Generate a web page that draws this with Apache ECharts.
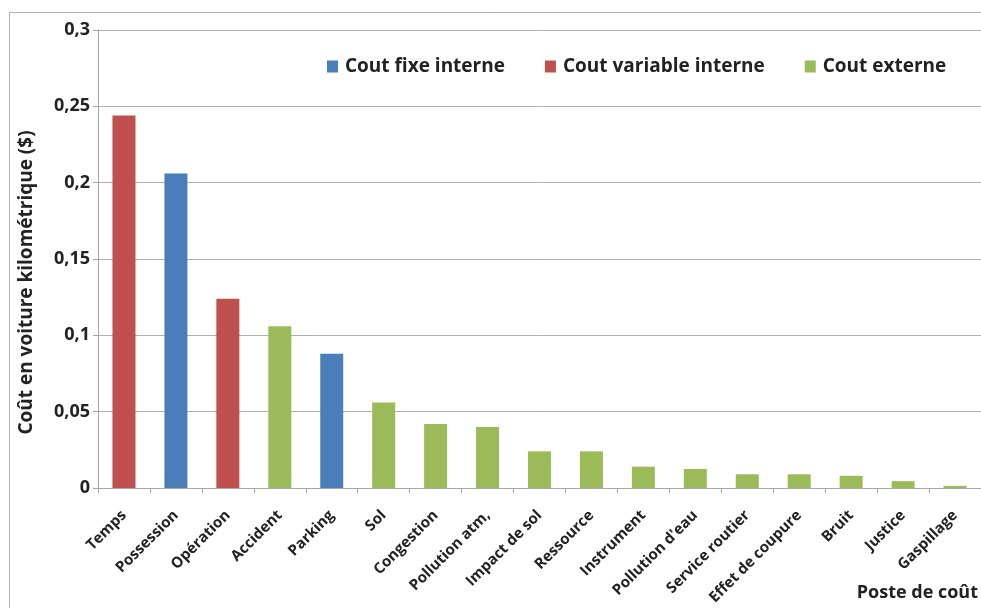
<!DOCTYPE html>
<html><head><meta charset="utf-8">
<script src="https://cdn.jsdelivr.net/npm/echarts@6/dist/echarts.min.js"></script>
<style>html,body{margin:0;padding:0;background:#fff}#c{width:981px;height:608px}</style>
</head><body><div id="c"></div>
<script>
var categories = ['Temps','Possession','Opération','Accident','Parking','Sol','Congestion','Pollution atm,','Impact de sol','Ressource','Instrument',"Pollution d'eau",'Service routier','Effet de coupure','Bruit','Justice','Gaspillage'];
var coutFixeInterne =     [null, 0.206, null, null, 0.088, null, null, null, null, null, null, null, null, null, null, null, null];
var coutVariableInterne = [0.244, null, 0.124, null, null, null, null, null, null, null, null, null, null, null, null, null, null];
var coutExterne =         [null, null, null, 0.106, null, 0.056, 0.042, 0.040, 0.024, 0.024, 0.014, 0.0125, 0.009, 0.009, 0.008, 0.0045, 0.0014];
var yTicks = {min: 0, max: 0.3, interval: 0.05};
var seriesNames = ['Cout fixe interne','Cout variable interne','Cout externe'];
var colors = ['#4a7ebb','#c0504d','#9bbb59'];

var FONT = '"Open Sans"';
var TXT = '#222222';
var chart = echarts.init(document.getElementById('c'));
function mk(name, data, color){
  return {name: name, type: 'bar', stack: 's', data: data, barWidth: 23,
    itemStyle: {color: color}, emphasis: {disabled: true}};
}
chart.setOption({
  animation: false,
  textStyle: {fontFamily: FONT},
  grid: {left: 98, top: 30, bottom: 120, right: -12, containLabel: false},
  legend: {
    data: seriesNames, top: 52, left: 322, itemWidth: 11, itemHeight: 12, itemGap: 40,
    icon: 'rect',
    textStyle: {fontFamily: FONT, fontWeight: 'bold', fontSize: 19, color: TXT, padding: [0,0,0,2]}
  },
  xAxis: {
    type: 'category', data: categories,
    axisLine: {lineStyle: {color: '#a6a6a6', width: 1}},
    axisTick: {show: true, length: 5, lineStyle: {color: '#a6a6a6'}},
    axisLabel: {rotate: 45, interval: 0, fontFamily: FONT, fontWeight: 'bold', fontSize: 15, color: TXT, margin: 25}
  },
  yAxis: {
    type: 'value', min: yTicks.min, max: yTicks.max, interval: yTicks.interval,
    name: 'Coût en voiture kilométrique ($)', nameLocation: 'middle', nameGap: 62,
    nameTextStyle: {fontFamily: FONT, fontWeight: 'bold', fontSize: 19, color: TXT, padding: [0, 47, 0, 0]},
    axisLine: {show: true, lineStyle: {color: '#a6a6a6'}},
    axisTick: {show: true, length: 5, lineStyle: {color: '#a6a6a6'}},
    splitLine: {lineStyle: {color: '#b0b0b0'}},
    axisLabel: {fontFamily: FONT, fontWeight: 'bold', fontSize: 18, color: TXT, margin: 8,
      formatter: function(v){ return String(Math.round(v*100)/100).replace('.', ','); }}
  },
  graphic: [
    {type: 'rect', shape: {x: 9.5, y: 12.5, width: 1100, height: 800}, style: {fill: 'none', stroke: '#b0b0b0', lineWidth: 1}, silent: true},
    {type: 'text', right: 3, top: 584, style: {text: 'Poste de coût', fontFamily: FONT, fontWeight: 'bold', fontSize: 18, fill: TXT}}
  ],
  series: [mk(seriesNames[0], coutFixeInterne, colors[0]), mk(seriesNames[1], coutVariableInterne, colors[1]), mk(seriesNames[2], coutExterne, colors[2])]
});
</script></body></html>
